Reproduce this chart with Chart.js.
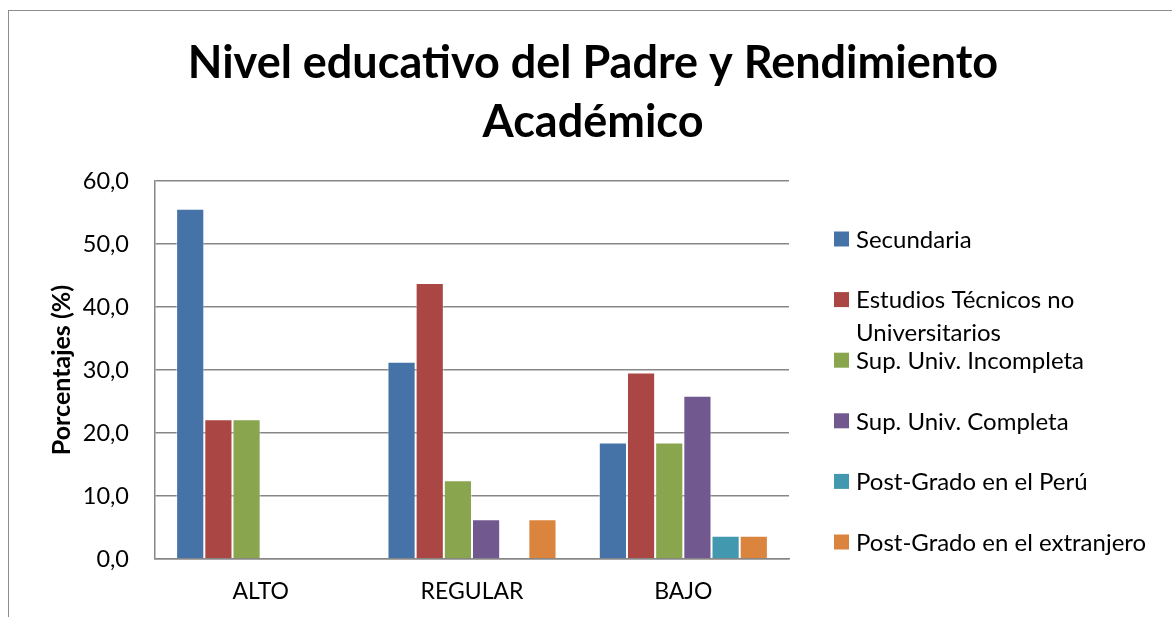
<!DOCTYPE html>
<html>
<head>
<meta charset="utf-8">
<script src="https://cdn.jsdelivr.net/npm/chart.js@4"></script>
<style>
  body { margin: 0; background: #fff; }
  #wrap { position: relative; width: 1172px; height: 617px; }
  #frame { position: absolute; left: 8px; top: 10px; right: -5px; bottom: -5px;
           border-left: 1.5px solid #8c8c8c; border-top: 1.5px solid #8c8c8c; }
  canvas { position: absolute; left: 0; top: 0; }
</style>
</head>
<body>
<div id="wrap">
  <div id="frame"></div>
  <canvas id="chart" width="1172" height="617"></canvas>
</div>
<script>
// categories and series
const categories = ['ALTO', 'REGULAR', 'BAJO'];
const seriesNames = [
  'Secundaria',
  'Estudios Técnicos no Universitarios',
  'Sup. Univ. Incompleta',
  'Sup. Univ. Completa',
  'Post-Grado en el Perú',
  'Post-Grado en el extranjero'
];
const secundaria = [55.6, 31.3, 18.5];
const tecnicos = [22.2, 43.8, 29.6];
const univIncompleta = [22.2, 12.5, 18.5];
const univCompleta = [0, 6.3, 25.9];
const postGradoPeru = [0, 0, 3.7];
const postGradoExtranjero = [0, 6.3, 3.7];
const yTicks = [0, 10, 20, 30, 40, 50, 60];

const titleLines = ['Nivel educativo del Padre y Rendimiento', 'Académico'];
const yTitle = 'Porcentajes (%)';

const colors = ['#4572A7', '#AA4643', '#89A54E', '#71588F', '#4198AF', '#DB843D'];
const allSeries = [secundaria, tecnicos, univIncompleta, univCompleta, postGradoPeru, postGradoExtranjero];

const FONT = 'Lato, "Open Sans", sans-serif';

// title + legend drawn on the canvas
const sidePlugin = {
  id: 'sidePlugin',
  afterDraw(chart) {
    const ctx = chart.ctx;
    ctx.save();
    ctx.fillStyle = '#000';
    ctx.textAlign = 'center';
    ctx.textBaseline = 'middle';
    ctx.font = 'bold 45px ' + FONT;
    titleLines.forEach((t, i) => ctx.fillText(t, 593, 63 + i * 59));

    // legend on the right
    ctx.font = '24px ' + FONT;
    ctx.textAlign = 'left';
    chart.data.datasets.forEach((ds, i) => {
      const y = 239 + i * 60.6;
      ctx.fillStyle = ds.backgroundColor;
      ctx.fillRect(834, y - 7.5, 15, 15);
      ctx.fillStyle = '#000';
      // simple word wrap
      const words = ds.label.split(' ');
      let lines = [], line = '';
      words.forEach(w => {
        const test = line ? line + ' ' + w : w;
        if (ctx.measureText(test).width > 312 && line) { lines.push(line); line = w; }
        else line = test;
      });
      lines.push(line);
      lines.forEach((l, j) => ctx.fillText(l, 856, y + 1 + j * 33));
    });
    ctx.restore();
  }
};

new Chart(document.getElementById('chart'), {
  type: 'bar',
  data: {
    labels: categories,
    datasets: seriesNames.map((name, i) => ({
      label: name,
      data: allSeries[i],
      backgroundColor: colors[i],
      borderColor: 'rgba(255,255,255,0.45)',
      borderWidth: 1,
      categoryPercentage: 0.8,
      barPercentage: 1
    }))
  },
  options: {
    responsive: false,
    animation: false,
    layout: { padding: { top: 181, right: 383, bottom: 0, left: 0 } },
    plugins: {
      legend: { display: false },
      title: { display: false },
      tooltip: { enabled: false }
    },
    scales: {
      x: {
        grid: { display: false, drawTicks: false },
        border: { display: true, color: '#878787', width: 1.5 },
        ticks: { color: '#000', font: { family: FONT, size: 23 }, padding: 19 },
        afterFit(scale) { scale.height = 58; }
      },
      y: {
        min: 0,
        max: 60,
        afterBuildTicks(scale) { scale.ticks = yTicks.map(v => ({ value: v })); },
        grid: { color: '#878787', lineWidth: 1.5, drawTicks: false },
        border: { display: true, color: '#878787', width: 1.5 },
        ticks: {
          color: '#000',
          font: { family: FONT, size: 23.5 },
          padding: 26,
          callback: v => v.toFixed(1).replace('.', ',')
        },
        title: {
          display: true,
          text: yTitle,
          color: '#000',
          font: { family: FONT, size: 25, weight: 'bold' },
          padding: { top: 47, bottom: 0 }
        },
        afterFit(scale) { scale.width = 155; }
      }
    }
  },
  plugins: [sidePlugin]
});
</script>
</body>
</html>
